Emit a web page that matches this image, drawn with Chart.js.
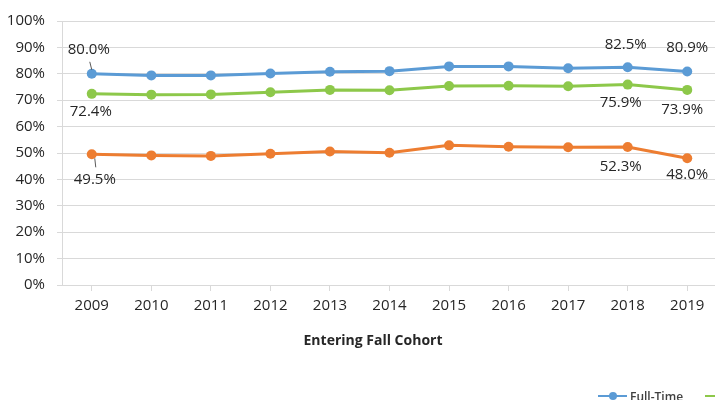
<!DOCTYPE html>
<html>
<head>
<meta charset="utf-8">
<script src="https://cdn.jsdelivr.net/npm/chart.js@4.4.1/dist/chart.umd.min.js"></script>
<style>
  html, body { margin: 0; padding: 0; background: #fff; overflow: hidden; }
  #wrap { position: relative; width: 722px; height: 400px; }
  #axis_title {
    position: absolute; left: 373px; top: 330px; transform: translateX(-50%);
    font: bold 14px "Open Sans", sans-serif; color: #262626; white-space: nowrap;
  }
  #legend {
    position: absolute; left: 598px; top: 384px; white-space: nowrap; line-height: 16px;
    font: 600 12px "Open Sans", sans-serif; color: #404040;
  }
  #legend span.item { display: inline-flex; align-items: center; margin-right: 22px; }
  #legend i { position: relative; display: inline-block; width: 29px; height: 2px; margin-right: 3px; }
  #legend i b { position: absolute; left: 11px; top: -3px; width: 8px; height: 8px; border-radius: 50%; }
</style>
</head>
<body>
<div id="wrap">
  <canvas id="cohort_chart" width="722" height="400"></canvas>
  <div id="axis_title">Entering Fall Cohort</div>
  <div id="legend"></div>
</div>
<script>
const years = ["2009", "2010", "2011", "2012", "2013", "2014", "2015", "2016", "2017", "2018", "2019"];
const fullTime = [80.0, 79.4, 79.4, 80.1, 80.8, 81.0, 82.8, 82.8, 82.1, 82.5, 80.9];
const overall = [72.4, 72.1, 72.2, 73.0, 73.9, 73.8, 75.4, 75.5, 75.3, 75.9, 73.9];
const partTime = [49.5, 49.1, 48.9, 49.7, 50.6, 50.1, 52.9, 52.4, 52.2, 52.3, 48.0];
const seriesNames = ["Full-Time", "Overall", "Part-Time"];
const yTicks = [0, 10, 20, 30, 40, 50, 60, 70, 80, 90, 100];

const colors = ["#5B9BD5", "#8DC84A", "#ED7D31"];
const textColor = "#262626";

// Which points get a value label, and where it sits relative to the point
const labelSpots = [
  { ds: 0, i: 0, dx: -3, dy: -24, leader: true },
  { ds: 1, i: 0, dx: -1, dy: 18 },
  { ds: 2, i: 0, dx: 3, dy: 25, leader: true },
  { ds: 0, i: 9, dx: -2, dy: -22 },
  { ds: 1, i: 9, dx: -7, dy: 18 },
  { ds: 2, i: 9, dx: -7, dy: 20 },
  { ds: 0, i: 10, dx: 0, dy: -24 },
  { ds: 1, i: 10, dx: -5, dy: 20 },
  { ds: 2, i: 10, dx: 0, dy: 16 }
];

const valueLabels = {
  id: "valueLabels",
  afterDatasetsDraw(chart) {
    const ctx = chart.ctx;
    ctx.save();
    ctx.font = "15px 'Open Sans', sans-serif";
    ctx.fillStyle = textColor;
    ctx.textAlign = "center";
    ctx.textBaseline = "middle";
    labelSpots.forEach(s => {
      const pt = chart.getDatasetMeta(s.ds).data[s.i];
      const value = chart.data.datasets[s.ds].data[s.i];
      const x = pt.x + s.dx, y = pt.y + s.dy;
      ctx.fillText(value.toFixed(1) + "%", x, y);
      if (s.leader) {
        ctx.strokeStyle = "#595959";
        ctx.lineWidth = 1;
        ctx.beginPath();
        const dir = s.dy < 0 ? 1 : -1;
        ctx.moveTo(x + 1, y + dir * 12);
        ctx.lineTo(pt.x + (s.dx > 0 ? 3 : 0), pt.y - dir * 4);
        ctx.stroke();
      }
    });
    ctx.restore();
  }
};

const context = document.getElementById("cohort_chart").getContext("2d");
const seriesData = [fullTime, overall, partTime];

new Chart(context, {
  type: "line",
  data: {
    labels: years,
    datasets: seriesData.map((d, k) => ({
      label: seriesNames[k],
      data: d,
      borderColor: colors[k],
      backgroundColor: colors[k],
      borderWidth: 3,
      pointRadius: 5,
      pointBorderWidth: 0,
      tension: 0
    }))
  },
  options: {
    responsive: false,
    animation: false,
    layout: { padding: { top: 17, right: 3 } },
    plugins: { legend: { display: false }, tooltip: { enabled: false } },
    scales: {
      x: {
        offset: true,
        grid: { drawOnChartArea: false, drawTicks: true, tickLength: 6, color: "#d9d9d9" },
        border: { color: "#d9d9d9" },
        ticks: { color: textColor, font: { family: "'Open Sans', sans-serif", size: 15 }, padding: 6, maxRotation: 0 },
        afterFit(scale) { scale.height = 115; }
      },
      y: {
        min: 0,
        max: 100,
        afterBuildTicks(scale) { scale.ticks = yTicks.map(v => ({ value: v })); },
        grid: { color: "#d9d9d9", tickLength: 5 },
        border: { color: "#d9d9d9" },
        ticks: {
          color: textColor,
          font: { family: "'Open Sans', sans-serif", size: 15 },
          padding: 12,
          callback: v => v + "%"
        },
        afterFit(scale) { scale.width = 62; }
      }
    }
  },
  plugins: [valueLabels]
});

// Legend below the plot, running off the right edge as in the source
const legend = document.getElementById("legend");
seriesNames.forEach((name, k) => {
  const item = document.createElement("span");
  item.className = "item";
  item.innerHTML = '<i style="background:' + colors[k] + '"><b style="background:' + colors[k] + '"></b></i>' + name;
  legend.appendChild(item);
});
</script>
</body>
</html>
